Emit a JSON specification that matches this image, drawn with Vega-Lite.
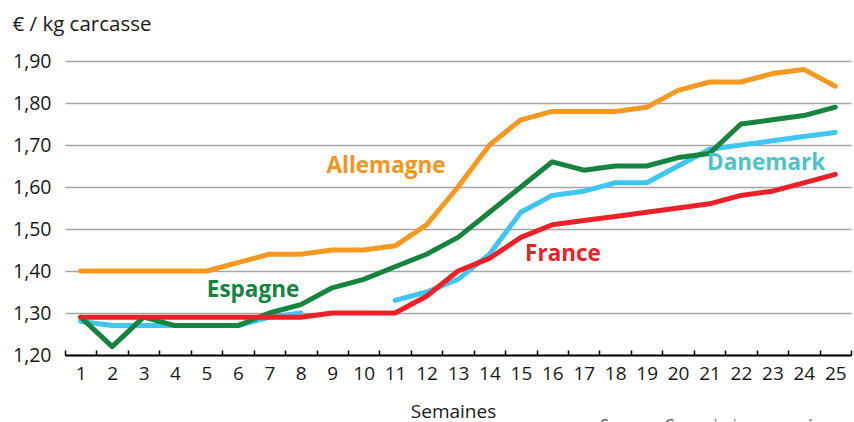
{
  "$schema": "https://vega.github.io/schema/vega-lite/v6.json",
  "width": 786,
  "height": 294,
  "autosize": {"type": "none"},
  "padding": {"left": 65, "top": 61, "right": 3, "bottom": 67},
  "background": "white",
  "config": {"view": {"stroke": null}, "font": "Open Sans"},
  "title": {"text": "Source : Commission européenne", "orient": "bottom", "anchor": "end", "fontSize": 16, "fontWeight": "normal", "color": "#595959", "offset": -3, "baseline": "top"},
  "datasets": {
    "prices": [
      {"week": 1, "country": "Danemark", "value": 1.28},
      {"week": 2, "country": "Danemark", "value": 1.27},
      {"week": 3, "country": "Danemark", "value": 1.27},
      {"week": 4, "country": "Danemark", "value": 1.27},
      {"week": 5, "country": "Danemark", "value": 1.27},
      {"week": 6, "country": "Danemark", "value": 1.27},
      {"week": 7, "country": "Danemark", "value": 1.29},
      {"week": 8, "country": "Danemark", "value": 1.30},
      {"week": 9, "country": "Danemark", "value": null},
      {"week": 10, "country": "Danemark", "value": null},
      {"week": 11, "country": "Danemark", "value": 1.33},
      {"week": 12, "country": "Danemark", "value": 1.35},
      {"week": 13, "country": "Danemark", "value": 1.38},
      {"week": 14, "country": "Danemark", "value": 1.44},
      {"week": 15, "country": "Danemark", "value": 1.54},
      {"week": 16, "country": "Danemark", "value": 1.58},
      {"week": 17, "country": "Danemark", "value": 1.59},
      {"week": 18, "country": "Danemark", "value": 1.61},
      {"week": 19, "country": "Danemark", "value": 1.61},
      {"week": 20, "country": "Danemark", "value": 1.65},
      {"week": 21, "country": "Danemark", "value": 1.69},
      {"week": 22, "country": "Danemark", "value": 1.70},
      {"week": 23, "country": "Danemark", "value": 1.71},
      {"week": 24, "country": "Danemark", "value": 1.72},
      {"week": 25, "country": "Danemark", "value": 1.73},
      {"week": 1, "country": "Espagne", "value": 1.29},
      {"week": 2, "country": "Espagne", "value": 1.22},
      {"week": 3, "country": "Espagne", "value": 1.29},
      {"week": 4, "country": "Espagne", "value": 1.27},
      {"week": 5, "country": "Espagne", "value": 1.27},
      {"week": 6, "country": "Espagne", "value": 1.27},
      {"week": 7, "country": "Espagne", "value": 1.30},
      {"week": 8, "country": "Espagne", "value": 1.32},
      {"week": 9, "country": "Espagne", "value": 1.36},
      {"week": 10, "country": "Espagne", "value": 1.38},
      {"week": 11, "country": "Espagne", "value": 1.41},
      {"week": 12, "country": "Espagne", "value": 1.44},
      {"week": 13, "country": "Espagne", "value": 1.48},
      {"week": 14, "country": "Espagne", "value": 1.54},
      {"week": 15, "country": "Espagne", "value": 1.60},
      {"week": 16, "country": "Espagne", "value": 1.66},
      {"week": 17, "country": "Espagne", "value": 1.64},
      {"week": 18, "country": "Espagne", "value": 1.65},
      {"week": 19, "country": "Espagne", "value": 1.65},
      {"week": 20, "country": "Espagne", "value": 1.67},
      {"week": 21, "country": "Espagne", "value": 1.68},
      {"week": 22, "country": "Espagne", "value": 1.75},
      {"week": 23, "country": "Espagne", "value": 1.76},
      {"week": 24, "country": "Espagne", "value": 1.77},
      {"week": 25, "country": "Espagne", "value": 1.79},
      {"week": 1, "country": "Allemagne", "value": 1.40},
      {"week": 2, "country": "Allemagne", "value": 1.40},
      {"week": 3, "country": "Allemagne", "value": 1.40},
      {"week": 4, "country": "Allemagne", "value": 1.40},
      {"week": 5, "country": "Allemagne", "value": 1.40},
      {"week": 6, "country": "Allemagne", "value": 1.42},
      {"week": 7, "country": "Allemagne", "value": 1.44},
      {"week": 8, "country": "Allemagne", "value": 1.44},
      {"week": 9, "country": "Allemagne", "value": 1.45},
      {"week": 10, "country": "Allemagne", "value": 1.45},
      {"week": 11, "country": "Allemagne", "value": 1.46},
      {"week": 12, "country": "Allemagne", "value": 1.51},
      {"week": 13, "country": "Allemagne", "value": 1.60},
      {"week": 14, "country": "Allemagne", "value": 1.70},
      {"week": 15, "country": "Allemagne", "value": 1.76},
      {"week": 16, "country": "Allemagne", "value": 1.78},
      {"week": 17, "country": "Allemagne", "value": 1.78},
      {"week": 18, "country": "Allemagne", "value": 1.78},
      {"week": 19, "country": "Allemagne", "value": 1.79},
      {"week": 20, "country": "Allemagne", "value": 1.83},
      {"week": 21, "country": "Allemagne", "value": 1.85},
      {"week": 22, "country": "Allemagne", "value": 1.85},
      {"week": 23, "country": "Allemagne", "value": 1.87},
      {"week": 24, "country": "Allemagne", "value": 1.88},
      {"week": 25, "country": "Allemagne", "value": 1.84},
      {"week": 1, "country": "France", "value": 1.29},
      {"week": 2, "country": "France", "value": 1.29},
      {"week": 3, "country": "France", "value": 1.29},
      {"week": 4, "country": "France", "value": 1.29},
      {"week": 5, "country": "France", "value": 1.29},
      {"week": 6, "country": "France", "value": 1.29},
      {"week": 7, "country": "France", "value": 1.29},
      {"week": 8, "country": "France", "value": 1.29},
      {"week": 9, "country": "France", "value": 1.30},
      {"week": 10, "country": "France", "value": 1.30},
      {"week": 11, "country": "France", "value": 1.30},
      {"week": 12, "country": "France", "value": 1.34},
      {"week": 13, "country": "France", "value": 1.40},
      {"week": 14, "country": "France", "value": 1.43},
      {"week": 15, "country": "France", "value": 1.48},
      {"week": 16, "country": "France", "value": 1.51},
      {"week": 17, "country": "France", "value": 1.52},
      {"week": 18, "country": "France", "value": 1.53},
      {"week": 19, "country": "France", "value": 1.54},
      {"week": 20, "country": "France", "value": 1.55},
      {"week": 21, "country": "France", "value": 1.56},
      {"week": 22, "country": "France", "value": 1.58},
      {"week": 23, "country": "France", "value": 1.59},
      {"week": 24, "country": "France", "value": 1.61},
      {"week": 25, "country": "France", "value": 1.63}
    ],
    "labels": [
      {"label": "Allemagne", "wx": 10.71, "value": 1.649},
      {"label": "Espagne", "wx": 6.48, "value": 1.355},
      {"label": "France", "wx": 16.34, "value": 1.44},
      {"label": "Danemark", "wx": 22.8, "value": 1.657}
    ]
  },
  "layer": [
    {
      "data": {"name": "prices"},
      "mark": {"type": "line", "strokeCap": "round", "strokeJoin": "round"},
      "encoding": {
        "x": {
          "field": "week",
          "type": "ordinal",
          "bandPosition": 0.5,
          "scale": {"type": "band", "paddingInner": 0, "paddingOuter": 0},
          "axis": {
            "title": "Semaines",
            "labelAngle": 0,
            "tickBand": "extent",
            "grid": false,
            "domainColor": "#000000",
            "domainWidth": 2,
            "tickColor": "#000000",
            "tickWidth": 1.5,
            "tickSize": -5,
            "labelFontSize": 19,
            "labelColor": "#1a1a1a",
            "labelPadding": 14,
            "titleFontSize": 19,
            "titleFontWeight": "normal",
            "titleColor": "#1a1a1a",
            "titleX": 388,
            "titleY": 62,
            "titleBaseline": "alphabetic"
          }
        },
        "y": {
          "field": "value",
          "type": "quantitative",
          "scale": {"domain": [1.2, 1.9], "nice": false, "zero": false},
          "axis": {
            "values": [1.2, 1.3, 1.4, 1.5, 1.6, 1.7, 1.8, 1.9],
            "labelExpr": "replace(format(datum.value, '.2f'), '.', ',')",
            "domain": false,
            "ticks": false,
            "grid": true,
            "gridColor": "#a6a6a6",
            "gridWidth": 1.5,
            "labelFontSize": 19.5,
            "labelColor": "#1a1a1a",
            "labelPadding": 14,
            "title": "€ / kg carcasse",
            "titleAngle": 0,
            "titleAlign": "left",
            "titleBaseline": "alphabetic",
            "titleX": -53,
            "titleY": -31,
            "titleFontSize": 20.5,
            "titleFontWeight": "normal",
            "titleColor": "#1a1a1a"
          }
        },
        "color": {
          "field": "country",
          "type": "nominal",
          "scale": {"domain": ["Danemark", "Espagne", "Allemagne", "France"], "range": ["#3ec5f0", "#15843f", "#f7981f", "#ee2027"]},
          "legend": null
        },
        "strokeWidth": {
          "field": "country",
          "type": "nominal",
          "scale": {"domain": ["Danemark", "Espagne", "Allemagne", "France"], "range": [5, 5, 5, 6.5]},
          "legend": null
        }
      }
    },
    {
      "data": {"name": "labels"},
      "mark": {"type": "text", "fontWeight": "bold", "fontSize": 22.5, "baseline": "middle", "align": "center"},
      "encoding": {
        "x": {"field": "wx", "type": "quantitative", "scale": {"domain": [0.5, 25.5], "nice": false, "zero": false}, "axis": null},
        "y": {"field": "value", "type": "quantitative"},
        "text": {"field": "label"},
        "color": {
          "field": "label",
          "type": "nominal",
          "scale": {"domain": ["Allemagne", "Espagne", "France", "Danemark"], "range": ["#f7941d", "#15843f", "#ee2027", "#4cc3c8"]},
          "legend": null
        }
      }
    }
  ],
  "resolve": {"scale": {"x": "independent", "color": "independent"}}
}
